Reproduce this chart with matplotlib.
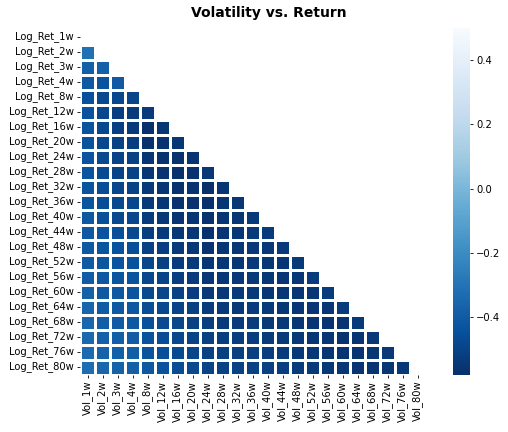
import numpy as np
import pandas as pd
import matplotlib
matplotlib.use("Agg")
import matplotlib.pyplot as plt
import seaborn as sns

# horizons in weeks
weeks = [1, 2, 3, 4, 8, 12, 16, 20, 24, 28, 32, 36, 40, 44, 48, 52, 56, 60, 64, 68, 72, 76, 80]
row_labels = ["Log_Ret_%dw" % w for w in weeks]
col_labels = ["Vol_%dw" % w for w in weeks]

# lower triangle (below the diagonal)
corr_rows = [
    [],
    [-0.31],
    [-0.38, -0.375],
    [-0.41, -0.43, -0.405],
    [-0.445, -0.48, -0.485, -0.49],
    [-0.44, -0.485, -0.52, -0.53, -0.53],
    [-0.44, -0.485, -0.52, -0.54, -0.58, -0.555],
    [-0.44, -0.48, -0.505, -0.52, -0.57, -0.565, -0.55],
    [-0.435, -0.475, -0.50, -0.51, -0.555, -0.565, -0.57, -0.56],
    [-0.435, -0.47, -0.50, -0.50, -0.55, -0.56, -0.57, -0.565, -0.55],
    [-0.43, -0.465, -0.49, -0.50, -0.54, -0.555, -0.57, -0.565, -0.58, -0.555],
    [-0.425, -0.46, -0.48, -0.485, -0.535, -0.55, -0.565, -0.565, -0.575, -0.555, -0.55],
    [-0.415, -0.455, -0.48, -0.485, -0.53, -0.545, -0.56, -0.555, -0.575, -0.555, -0.553, -0.54],
    [-0.41, -0.435, -0.455, -0.475, -0.52, -0.53, -0.55, -0.55, -0.57, -0.553, -0.55, -0.54, -0.53],
    [-0.41, -0.425, -0.44, -0.455, -0.505, -0.52, -0.54, -0.55, -0.565, -0.557, -0.55, -0.545, -0.545, -0.535],
    [-0.405, -0.42, -0.435, -0.44, -0.495, -0.515, -0.53, -0.54, -0.557, -0.55, -0.55, -0.54, -0.55, -0.553,
     -0.535],
    [-0.395, -0.415, -0.425, -0.435, -0.485, -0.50, -0.52, -0.53, -0.55, -0.55, -0.545, -0.54, -0.55, -0.557,
     -0.55, -0.527],
    [-0.37, -0.41, -0.415, -0.425, -0.475, -0.495, -0.51, -0.52, -0.54, -0.545, -0.54, -0.54, -0.55, -0.557,
     -0.553, -0.557, -0.53],
    [-0.36, -0.40, -0.41, -0.415, -0.46, -0.48, -0.50, -0.515, -0.53, -0.54, -0.535, -0.527, -0.54, -0.55,
     -0.55, -0.557, -0.557, -0.53],
    [-0.35, -0.39, -0.40, -0.41, -0.445, -0.47, -0.49, -0.505, -0.523, -0.53, -0.53, -0.527, -0.535, -0.545,
     -0.55, -0.557, -0.56, -0.56, -0.54],
    [-0.345, -0.38, -0.385, -0.395, -0.44, -0.46, -0.485, -0.50, -0.515, -0.523, -0.523, -0.523, -0.53, -0.54,
     -0.545, -0.553, -0.557, -0.565, -0.56, -0.545],
    [-0.335, -0.37, -0.38, -0.385, -0.43, -0.45, -0.475, -0.49, -0.505, -0.515, -0.515, -0.515, -0.523, -0.53,
     -0.54, -0.55, -0.553, -0.56, -0.56, -0.557, -0.545],
    [-0.325, -0.355, -0.37, -0.38, -0.415, -0.44, -0.465, -0.48, -0.50, -0.505, -0.505, -0.505, -0.515, -0.523,
     -0.53, -0.54, -0.55, -0.557, -0.56, -0.56, -0.557, -0.545],
]

n = len(weeks)
mat = np.full((n, n), np.nan)
for i, row in enumerate(corr_rows):
    mat[i, :len(row)] = row
df = pd.DataFrame(mat, index=row_labels, columns=col_labels)

# hide diagonal and everything above it
mask = np.triu(np.ones((n, n), dtype=bool))

fig = plt.figure(figsize=(5.08, 4.32), dpi=100)
ax = fig.add_axes([80 / 508, 1 - 374.5 / 432, 345 / 508, 345 / 432])
cax = fig.add_axes([453 / 508, 1 - 375 / 432, 17 / 508, 347 / 432])

sns.heatmap(df, mask=mask, cmap="Blues_r", vmax=0.5, linewidths=0.9, linecolor="white",
            ax=ax, cbar_ax=cax, xticklabels=True, yticklabels=True)

ax.tick_params(labelsize=7.2, length=2.5, width=0.6, pad=2)
ax.set_xticklabels(col_labels, rotation=90)
ax.set_yticklabels(row_labels, rotation=0)
cax.tick_params(labelsize=7.2, length=2.5, width=0.6, pad=2)

fig.text(268.5 / 508, 1 - 13 / 432, "Volatility vs. Return", ha="center", va="center",
         fontsize=10, fontweight="bold")

fig.savefig("out.png", dpi=100)
